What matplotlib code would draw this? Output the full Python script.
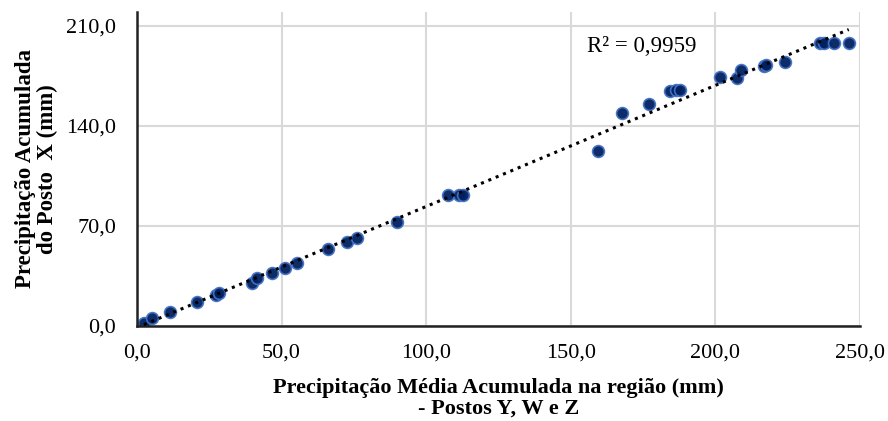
import numpy as np
import matplotlib.pyplot as plt

# Precipitação média acumulada (postos Y, W e Z) x posto X
media_ywz = [2.4, 5.1, 11.4, 20.6, 27.2, 28.5, 39.7, 41.6, 46.6, 51.0, 55.3,
             66.2, 72.6, 76.0, 89.9, 107.7, 111.2, 112.7, 159.3, 167.7, 177.2,
             184.4, 186.2, 187.7, 201.7, 207.5, 208.7, 216.7, 217.5, 224.0,
             236.3, 237.5, 241.0, 246.1]
posto_x = [2.3, 5.4, 10.0, 17.0, 22.0, 23.0, 30.3, 33.4, 36.9, 40.8, 43.9,
           53.9, 58.6, 61.4, 72.6, 91.7, 91.7, 91.7, 122.0, 148.9, 155.4,
           164.0, 164.7, 165.2, 174.0, 173.4, 178.7, 182.0, 182.5, 184.6,
           197.9, 197.9, 197.9, 197.9]

x_ticks = [0, 50, 100, 150, 200, 250]
y_ticks = [0, 70, 140, 210]
r2_text = "R² = 0,9959"

plt.rcParams['font.family'] = ['Liberation Serif', 'DejaVu Serif']

fig = plt.figure(figsize=(8.88, 4.21), dpi=100)
ax = fig.add_axes([0.1543, 0.2257, 0.8142, 0.7458])

# trend line (linear fit)
coef = np.polyfit(media_ywz, posto_x, 1)
xs = np.array([min(media_ywz), max(media_ywz)])
ax.plot(xs, np.polyval(coef, xs), linestyle=(0, (1, 1.6)), color='black', lw=2.2, zorder=3)

ax.plot(media_ywz, posto_x, 'o', markersize=8.5, markerfacecolor='#002060',
        markeredgecolor='#4472C4', markeredgewidth=1.2, zorder=2, alpha=0.95)

ax.set_xlim(0, 250)
ax.set_ylim(0, 219.5)
ax.set_xticks(x_ticks)
ax.set_yticks(y_ticks)
ax.set_xticklabels([f"{v:.1f}".replace('.', ',') for v in x_ticks], fontsize=16)
ax.set_yticklabels([f"{v:.1f}".replace('.', ',') for v in y_ticks], fontsize=16)
ax.tick_params(axis='x', length=0, pad=13)
ax.tick_params(axis='y', length=0, pad=15)

ax.grid(True, color='#d9d9d9', lw=1.5)
ax.set_axisbelow(True)
for s in ['top', 'right']:
    ax.spines[s].set_visible(False)
for s in ['left', 'bottom']:
    ax.spines[s].set_linewidth(1.8)
    ax.spines[s].set_color('#222222')

ax.set_xlabel("Precipitação Média Acumulada na região (mm)\n- Postos Y, W e Z",
              fontsize=16, fontweight='bold', linespacing=1.05, va='top')
ax.xaxis.set_label_coords(0.5, -0.166)
ax.set_ylabel("Precipitação Acumulada\ndo Posto  X (mm)", fontsize=16.5,
              fontweight='bold', linespacing=1.05, va='bottom')
ax.yaxis.set_label_coords(-0.109, 0.5)

ax.text(0.623, 0.89, r2_text, transform=ax.transAxes, fontsize=16.5, va='center')

fig.savefig('out.png', dpi=100)
